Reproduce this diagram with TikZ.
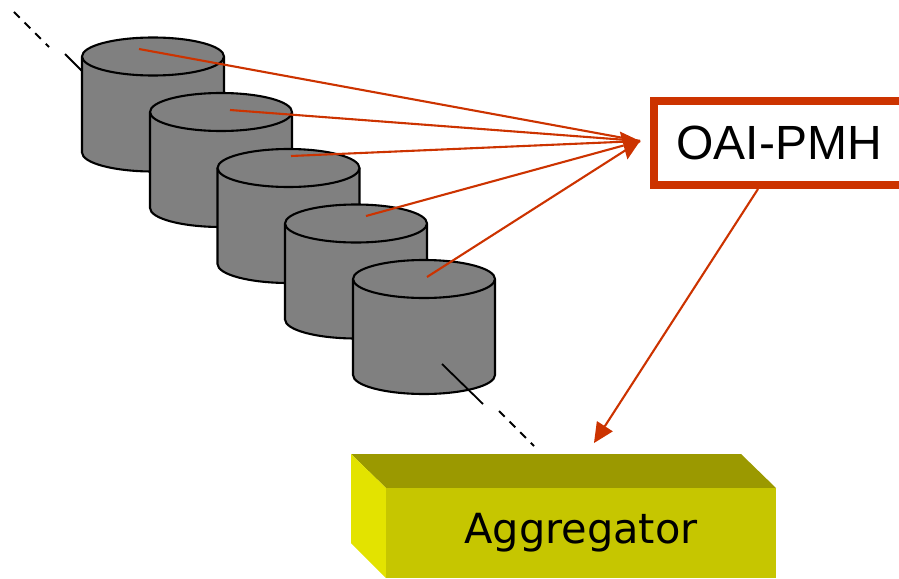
\documentclass[tikz,border=0pt]{standalone}
\usepackage{fontspec}
\setmainfont{Liberation Sans}
\newfontfamily\dejavu{DejaVu Sans}
\usetikzlibrary{arrows.meta}
\definecolor{oaired}{HTML}{CC3300}
\definecolor{cylgray}{HTML}{808080}
\definecolor{aggtop}{HTML}{9B9900}
\definecolor{aggfront}{HTML}{C6C600}
\definecolor{aggside}{HTML}{E3E300}
\tikzset{
  x=1pt,y=-1pt,
  cylbody/.style={fill=cylgray,draw=black,line width=2.1pt,line join=round},
  redline/.style={draw=oaired,line width=2.1pt},
  blackline/.style={draw=black,line width=1.8pt},
  dashline/.style={blackline,dash pattern=on 8pt off 7pt},
  redhead/.style={-{Triangle[length=17pt,width=29pt,line width=0pt]}},
  redhead2/.style={-{Triangle[length=20pt,width=19pt,line width=0pt]}},
  pmhbox/.style={draw=oaired,fill=white,line width=8pt,minimum width=250pt,minimum height=84pt,inner sep=0pt,font=\fontsize{48}{50}\selectfont},
  aggbox/.style={fill=aggfront,minimum width=390pt,minimum height=90pt,inner sep=0pt,font=\dejavu\fontsize{41.5}{46}\selectfont}
}
\newcommand{\cylinder}[3]{%
  \coordinate (#3) at (#1,#2);
  \path[cylbody] (#1-71,#2) -- (#1-71,#2+96) arc[start angle=180,end angle=360,x radius=71,y radius=-19] -- (#1+71,#2) -- cycle;
  \draw[cylbody] (#1,#2) ellipse[x radius=71,y radius=19];
}
\begin{document}
\begin{tikzpicture}
\useasboundingbox (0,0) rectangle (899,578);
\clip (0,0) rectangle (899,578);
\coordinate (dashA) at (14,12);
\coordinate (dashB) at (49,47);
\coordinate (solidA) at (65,54);
\coordinate (solidB) at (82,71);
\draw[dashline] (dashA) -- (dashB);
\draw[blackline] (solidA) -- (solidB);
\cylinder{153}{56.5}{cylA}
\cylinder{221}{112}{cylB}
\cylinder{288.5}{168}{cylC}
\cylinder{356}{223.5}{cylD}
\cylinder{424}{279}{cylE}
\coordinate (solidC) at (442,364);
\coordinate (solidD) at (483,404);
\coordinate (dashC) at (499,411);
\coordinate (dashD) at (534,446);
\draw[blackline] (solidC) -- (solidD);
\draw[dashline] (dashC) -- (dashD);
\coordinate (r1) at (139,49);
\coordinate (r2) at (230,110);
\coordinate (r3) at (291,156);
\coordinate (r4) at (366,216);
\coordinate (r5) at (427,277);
\coordinate (tip) at (640,141);
\draw[redline] (r1) -- (tip);
\draw[redline] (r2) -- (tip);
\draw[redline] (r3) -- (tip);
\draw[redline] (r5) -- (tip);
\draw[redline,redhead] (r4) -- (tip);
\node[pmhbox] (oai) at (779,143) {\raisebox{-1pt}{OAI-PMH}};
\fill[aggtop] (351,454) -- (741,454) -- (776,488) -- (386,488) -- cycle;
\fill[aggside] (351,454) -- (386,488) -- (386,578) -- (351,543) -- cycle;
\node[aggbox] (agg) at (581,533) {Aggregator};
\coordinate (fromoai) at (758,189);
\coordinate (toagg) at (594,443);
\draw[redline,redhead2] (fromoai) -- (toagg);
\end{tikzpicture}
\end{document}
